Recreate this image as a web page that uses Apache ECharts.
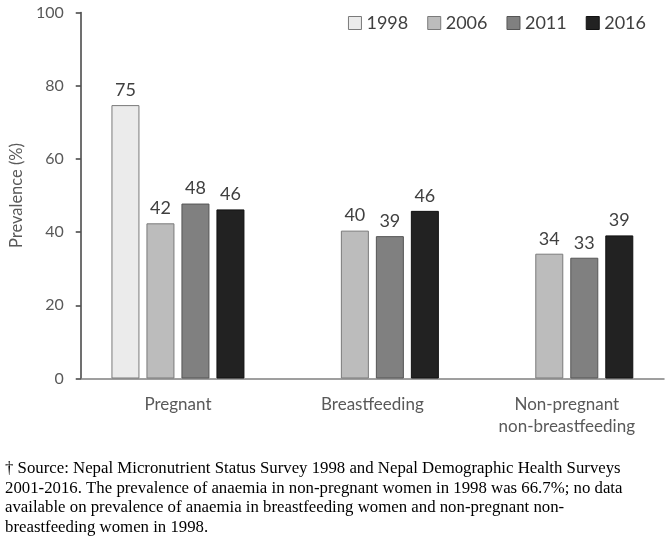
<!DOCTYPE html>
<html>
<head>
<meta charset="utf-8">
<script src="https://cdn.jsdelivr.net/npm/echarts@6/dist/echarts.min.js"></script>
<style>html,body{margin:0;padding:0;background:#fff}#c{width:669px;height:541px}</style>
</head>
<body>
<div id="c"></div>
<script>
var categories = ['Pregnant', 'Breastfeeding', 'Non-pregnant\nnon-breastfeeding'];
var years = ['1998', '2006', '2011', '2016'];
var v1998 = [74.7, null, null];
var v2006 = [42.4, 40.4, 34.1];
var v2011 = [47.8, 38.9, 33.0];
var v2016 = [46.2, 45.8, 39.1];
var yTicks = [0, 20, 40, 60, 80, 100];
var footnote = '\u2020 Source: Nepal Micronutrient Status Survey 1998 and Nepal Demographic Health Surveys\n' +
  '2001-2016. The prevalence of anaemia in non-pregnant women in 1998 was 66.7%; no data\n' +
  'available on prevalence of anaemia in breastfeeding women and non-pregnant non-\n' +
  'breastfeeding women in 1998.';

var fills = ['#ebebeb', '#bcbcbc', '#808080', '#222222'];
var borders = ['#7a7a7a', '#7a7a7a', '#555555', '#111111'];
var seriesData = [v1998, v2006, v2011, v2016];
var font = 'Lato, "Open Sans", sans-serif';

var chart = echarts.init(document.getElementById('c'), null, {renderer: 'canvas'});
var series = years.map(function (y, i) {
  return {
    name: y,
    type: 'bar',
    data: seriesData[i],
    barWidth: 28,
    barGap: '25%',
    itemStyle: {color: fills[i], borderColor: borders[i], borderWidth: 1},
    label: {
      show: true, position: 'top', distance: 6,
      color: '#404040', fontSize: 18, fontFamily: font,
      formatter: function (p) { return p.value == null ? '' : Math.round(p.value); }
    }
  };
});

chart.setOption({
  animation: false,
  backgroundColor: '#fff',
  grid: {left: 77, right: 5, top: 12.5, bottom: 162.5, containLabel: false},
  legend: {
    data: years, right: 18, top: 9, itemWidth: 13, itemHeight: 13, itemGap: 19,
    icon: 'rect',
    textStyle: {fontSize: 18, color: '#404040', fontFamily: font},
    itemStyle: {borderWidth: 1}
  },
  xAxis: {
    type: 'category', data: categories,
    axisLine: {lineStyle: {color: '#808080', width: 1.5}},
    axisTick: {show: false},
    axisLabel: {color: '#595959', fontSize: 17, fontFamily: font, margin: 15, lineHeight: 22}
  },
  yAxis: {
    type: 'value', min: 0, max: 100, interval: 20,
    name: 'Prevalence (%)', nameLocation: 'middle', nameGap: 51, nameRotate: 90,
    nameTextStyle: {color: '#595959', fontSize: 16.5, fontFamily: font},
    axisLine: {show: true, lineStyle: {color: '#404040', width: 1.5}},
    axisTick: {show: true, inside: false, length: 5, lineStyle: {color: '#404040', width: 1.5}},
    splitLine: {show: false},
    axisLabel: {color: '#595959', fontSize: 16, fontFamily: font, margin: 17,
      formatter: function (v) { return yTicks.indexOf(v) >= 0 ? String(v) : ''; }}
  },
  graphic: [{
    type: 'text', left: 5, top: 459,
    style: {text: footnote, font: '16.8px "Liberation Serif", "Times New Roman", serif', fill: '#000', lineHeight: 19.5}
  }],
  series: series
});
</script>
</body>
</html>
